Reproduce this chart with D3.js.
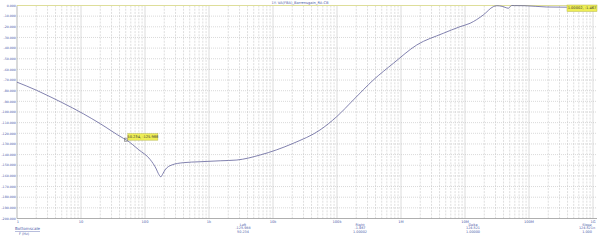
<!DOCTYPE html>
<html>
<head>
<meta charset="utf-8">
<script src="https://cdn.jsdelivr.net/npm/d3@7"></script>
<style>
  html, body { margin: 0; padding: 0; background: #fff; }
  svg { display: block; font-family: "DejaVu Sans", sans-serif; }
</style>
</head>
<body>
<div id="chart"></div>
<script>
// frequency response
const freqHz = [1, 2, 3.28, 5, 10.9, 20, 45.9, 50.234, 80, 120, 150, 161, 177, 190, 205, 261, 396, 724,
  1500, 2710, 6270, 20700, 54200, 98900, 180000, 369000, 759000, 1.76e6, 4.58e6, 8.36e6, 12e6, 19.3e6,
  27.7e6, 31.3e6, 38e6, 42.2e6, 47.5e6, 51e6, 53.7e6, 60e6, 86.6e6, 189e6, 388e6, 1e9];
const gainDb = [-72, -79.5, -85.6, -91, -101.7, -111, -124.7, -125.988, -135.5, -144.5, -153.5, -157.6, -160.8, -158, -154.5, -149.8, -147.6, -146.7,
  -145.8, -145.1, -140.4, -129.4, -116.9, -104.4, -88.7, -70, -54.3, -37.1, -26.1, -19.9, -16.7, -8.9,
  -1.1, -0.2, -0.8, -1.7, -2.6, -1.0, 0, -0.1, -0.2, -1.4, -1.6, -1.467];

const xTickValues = [1, 10, 100, 1e3, 1e4, 1e5, 1e6, 1e7, 1e8, 1e9];
const xTickLabels = ["1", "10", "100", "1k", "10k", "100k", "1M", "10M", "100M", "1G"];
const yTickValues = d3.range(0, -201, -10);

const markers = [
  { f: 50.234, v: -125.988, text: "50.234, -125.988" },
  { f: 1.00002e9, v: -1.467, text: "1.00002, -1.467" }
];
const readoutHeads = ["Left", "Right", "Delta", "Slope"];
const readoutY = ["-125.988", "-1.467", "124.521", "124.521n"];
const readoutX = ["50.234", "1.00002", "1.00000", "1.000"];

const title = "1Y: VA(FBA)_Barrensgain_RA-CB";

const W = 601, H = 240;
const plotL = 17, plotR = 593, plotT = 5.5, plotB = 218.5;

const svg = d3.select("#chart").append("svg").attr("width", W).attr("height", H);

const x = d3.scaleLog().domain([1, 1e9]).range([plotL, plotR]);
const y = d3.scaleLinear().domain([0, -200]).range([plotT, plotB]);

// grid: minor verticals
const minor = [];
for (let d = 0; d < 9; d++) for (let k = 2; k < 10; k++) minor.push(k * Math.pow(10, d));
svg.append("g").selectAll("line").data(minor).join("line")
  .attr("x1", d => x(d)).attr("x2", d => x(d))
  .attr("y1", plotT).attr("y2", plotB)
  .attr("stroke", "#c8c8c8").attr("stroke-width", 0.6)
  .attr("stroke-dasharray", "2,1.2");

// major verticals
svg.append("g").selectAll("line").data(xTickValues).join("line")
  .attr("x1", d => x(d)).attr("x2", d => x(d))
  .attr("y1", plotT).attr("y2", plotB)
  .attr("stroke", "#d2d2d2").attr("stroke-width", 0.8);

// horizontals
svg.append("g").selectAll("line").data(yTickValues.slice(1, -1)).join("line")
  .attr("x1", plotL).attr("x2", plotR + 4)
  .attr("y1", d => y(d)).attr("y2", d => y(d))
  .attr("stroke", "#c0c0c0").attr("stroke-width", 0.6)
  .attr("stroke-dasharray", "1,1");

// 0 dB reference line
svg.append("line")
  .attr("x1", plotL).attr("x2", plotR + 4)
  .attr("y1", y(0)).attr("y2", y(0))
  .attr("stroke", "#dede9a").attr("stroke-width", 1);

// bottom axis line
svg.append("line")
  .attr("x1", plotL).attr("x2", plotR + 4)
  .attr("y1", y(-200)).attr("y2", y(-200))
  .attr("stroke", "#9a9a9a").attr("stroke-width", 0.8);
svg.append("line")
  .attr("x1", plotL).attr("x2", plotL)
  .attr("y1", plotT).attr("y2", plotB)
  .attr("stroke", "#b0b0b0").attr("stroke-width", 0.6);

// y labels
svg.append("g").selectAll("text").data(yTickValues).join("text")
  .attr("x", plotL - 1.2).attr("y", d => y(d) + 1.2)
  .attr("text-anchor", "end")
  .attr("font-size", 3.2).attr("fill", "#4a58a8")
  .text(d => d.toFixed(3));

// x labels
svg.append("g").selectAll("text").data(xTickValues).join("text")
  .attr("x", (d, i) => x(d) + (i === 0 ? 1 : 0)).attr("y", plotB + 4.5)
  .attr("text-anchor", "middle")
  .attr("font-size", 3.6).attr("fill", "#4a58a8")
  .text((d, i) => xTickLabels[i]);

// title
svg.append("text")
  .attr("x", 300).attr("y", 4)
  .attr("text-anchor", "middle")
  .attr("font-size", 3.6).attr("fill", "#4a58a8")
  .text(title);

// curve
const pts = freqHz.map((f, i) => [f, gainDb[i]]);
svg.append("path")
  .datum(pts)
  .attr("d", d3.line().x(d => x(d[0])).y(d => y(d[1])).curve(d3.curveMonotoneX))
  .attr("fill", "none")
  .attr("stroke", "#62629a")
  .attr("stroke-width", 0.8);

// markers
markers.forEach((m, i) => {
  const mx = Math.min(x(m.f), plotR), my = y(m.v);
  svg.append("rect")
    .attr("x", mx - 1.5).attr("y", my - 1.5)
    .attr("width", 3).attr("height", 3)
    .attr("fill", "none").attr("stroke", "#707070").attr("stroke-width", 0.6);
  const bx = i === 0 ? mx + 2 : 567;
  const by = i === 0 ? my - 6 : 5;
  svg.append("rect")
    .attr("x", bx).attr("y", by)
    .attr("width", 30).attr("height", 6.5)
    .attr("fill", "#eeee55").attr("stroke", "#b8b850").attr("stroke-width", 0.5);
  svg.append("text")
    .attr("x", bx + 15).attr("y", by + 4.4)
    .attr("text-anchor", "middle")
    .attr("font-size", 3.6).attr("fill", "#333")
    .text(m.text);
});

// readouts
const readX = [243, 360, 473, 587];
readoutHeads.forEach((h, i) => {
  const g = svg.append("g").attr("font-size", 3.4).attr("fill", "#4a58a8").attr("text-anchor", "middle");
  g.append("text").attr("x", readX[i]).attr("y", 225.5).text(h);
  g.append("text").attr("x", readX[i]).attr("y", 229.3).text(readoutY[i]);
  g.append("text").attr("x", readX[i]).attr("y", 233.1).text(readoutX[i]);
});

svg.append("text")
  .attr("x", 15).attr("y", 230)
  .attr("font-size", 4).attr("fill", "#4a58a8")
  .attr("text-decoration", "underline")
  .text("Bottomscale");
svg.append("text")
  .attr("x", 19).attr("y", 234.5)
  .attr("font-size", 3.4).attr("fill", "#4a58a8")
  .text("F (Hz)");
</script>
</body>
</html>
